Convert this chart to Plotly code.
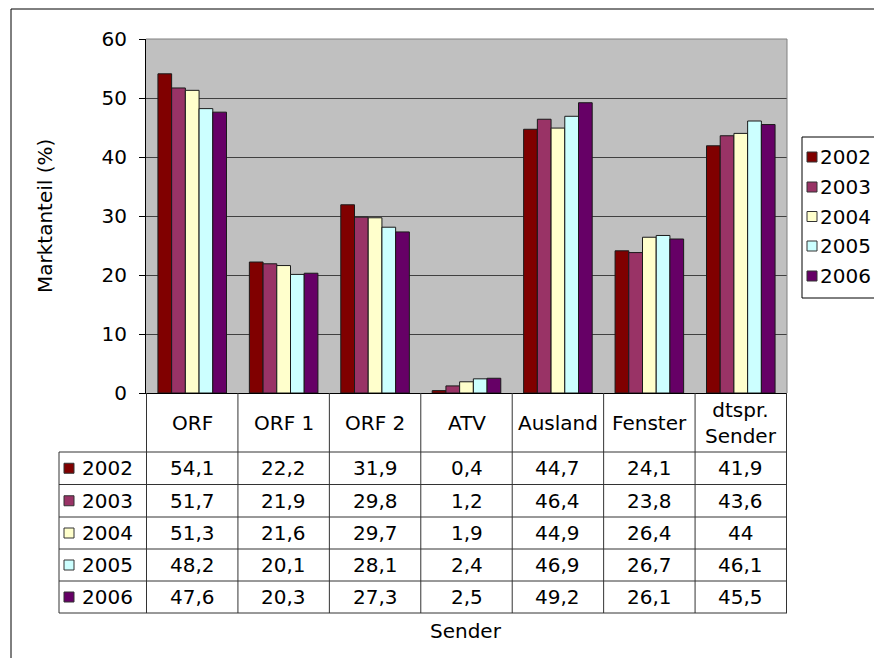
import plotly.graph_objects as go

categories = ["ORF", "ORF 1", "ORF 2", "ATV", "Ausland", "Fenster", "dtspr. Sender"]
header_labels = ["ORF", "ORF 1", "ORF 2", "ATV", "Ausland", "Fenster", "dtspr.<br>Sender"]
years = ["2002", "2003", "2004", "2005", "2006"]
v2002 = [54.1, 22.2, 31.9, 0.4, 44.7, 24.1, 41.9]
v2003 = [51.7, 21.9, 29.8, 1.2, 46.4, 23.8, 43.6]
v2004 = [51.3, 21.6, 29.7, 1.9, 44.9, 26.4, 44.0]
v2005 = [48.2, 20.1, 28.1, 2.4, 46.9, 26.7, 46.1]
v2006 = [47.6, 20.3, 27.3, 2.5, 49.2, 26.1, 45.5]
series = [v2002, v2003, v2004, v2005, v2006]
colors = ["#800000", "#993366", "#FFFFCC", "#CCFFFF", "#660066"]
y_ticks = [0, 10, 20, 30, 40, 50, 60]

# page is offset by the 8px default body margin
OFF = 8
W, H = 882 - OFF, 658 - OFF
L, R, T, B = 146, 787, 39, 393   # page pixel coords of plot area
FONT = "DejaVu Sans"
FS = 20


def xp(px):
    return (px - L) / (R - L)


def yp(py):
    return (B - py) / (B - T)


def fmt(v):
    s = ("%.1f" % v).replace(".", ",")
    if s.endswith(",0"):
        s = s[:-2]
    return s


fig = go.Figure()
for yr, vals, c in zip(years, series, colors):
    fig.add_trace(go.Bar(
        x=categories, y=vals, name=yr,
        marker=dict(color=c, line=dict(color="#1a1a1a", width=1)),
        hoverinfo="x+y+name",
    ))

shapes = []
annotations = []
line_col = "#333333"

# outer frame (top and left visible)
shapes.append(dict(type="line", xref="paper", yref="paper", x0=xp(11), x1=xp(900), y0=yp(9), y1=yp(9),
                   line=dict(color="#000000", width=1)))
shapes.append(dict(type="line", xref="paper", yref="paper", x0=xp(11), x1=xp(11), y0=yp(9), y1=yp(670),
                   line=dict(color="#000000", width=1)))

# plot area border top/right
shapes.append(dict(type="line", xref="paper", yref="paper", x0=0, x1=1, y0=1, y1=1,
                   line=dict(color="#808080", width=1)))
shapes.append(dict(type="line", xref="paper", yref="paper", x0=1, x1=1, y0=0, y1=1,
                   line=dict(color="#808080", width=1)))

# data table
row_edges = [452, 484.5, 517, 549, 581, 613]
for i in range(len(categories) + 1):
    shapes.append(dict(type="line", xref="x", yref="paper", x0=i - 0.5, x1=i - 0.5,
                       y0=yp(B), y1=yp(613), line=dict(color=line_col, width=1)))
shapes.append(dict(type="line", xref="paper", yref="paper", x0=xp(59), x1=xp(59),
                   y0=yp(452), y1=yp(613), line=dict(color=line_col, width=1)))
for ry in row_edges:
    shapes.append(dict(type="line", xref="paper", yref="paper", x0=xp(59), x1=1,
                       y0=yp(ry), y1=yp(ry), line=dict(color=line_col, width=1)))

for cat, lab in zip(categories, header_labels):
    annotations.append(dict(x=cat, xref="x", y=yp(423), yref="paper", text=lab, showarrow=False,
                            xanchor="center", yanchor="middle", font=dict(size=FS, family=FONT, color="#000")))

for r, (yr, vals, c) in enumerate(zip(years, series, colors)):
    cy = (row_edges[r] + row_edges[r + 1]) / 2
    shapes.append(dict(type="rect", xref="paper", yref="paper", x0=xp(64), x1=xp(74),
                       y0=yp(cy - 5), y1=yp(cy + 5), fillcolor=c, line=dict(color="#333333", width=1)))
    annotations.append(dict(x=xp(80), xref="paper", y=yp(cy), yref="paper", text=yr, showarrow=False,
                            xanchor="left", yanchor="middle", font=dict(size=FS, family=FONT, color="#000")))
    for cat, v in zip(categories, vals):
        annotations.append(dict(x=cat, xref="x", y=yp(cy), yref="paper", text=fmt(v), showarrow=False,
                                xanchor="center", yanchor="middle", font=dict(size=FS, family=FONT, color="#000")))

# legend box (manual)
shapes.append(dict(type="rect", xref="paper", yref="paper", x0=xp(802), x1=xp(895),
                   y0=yp(137), y1=yp(298), fillcolor="white", line=dict(color="#000000", width=1)))
leg_y = [157, 187, 216.5, 246, 276]
for yr, c, ly in zip(years, colors, leg_y):
    shapes.append(dict(type="rect", xref="paper", yref="paper", x0=xp(807), x1=xp(817),
                       y0=yp(ly - 5), y1=yp(ly + 5), fillcolor=c, line=dict(color="#333333", width=1)))
    annotations.append(dict(x=xp(818), xref="paper", y=yp(ly), yref="paper", text=yr, showarrow=False,
                            xanchor="left", yanchor="middle", font=dict(size=FS, family=FONT, color="#000")))

# axis titles
annotations.append(dict(x=xp(45), xref="paper", y=yp(216), yref="paper", text="Marktanteil (%)",
                        showarrow=False, textangle=-90, xanchor="center", yanchor="middle",
                        font=dict(size=FS, family=FONT, color="#000")))
annotations.append(dict(x=xp(466), xref="paper", y=yp(631), yref="paper", text="Sender",
                        showarrow=False, xanchor="center", yanchor="middle",
                        font=dict(size=FS, family=FONT, color="#000")))

fig.update_layout(
    width=W, height=H,
    margin=dict(l=L - OFF, r=W - (R - OFF), t=T - OFF, b=H - (B - OFF), pad=0, autoexpand=False),
    paper_bgcolor="white", plot_bgcolor="#C0C0C0",
    barmode="group", bargap=0.25, bargroupgap=0,
    showlegend=False,
    font=dict(family=FONT, size=FS, color="#000"),
    shapes=shapes, annotations=annotations,
)
fig.update_xaxes(showticklabels=False, showline=True, linecolor="#000", linewidth=1,
                 ticks="", showgrid=False, zeroline=False, fixedrange=True)
fig.update_yaxes(range=[0, 60], tickvals=y_ticks, ticks="outside", ticklen=6, tickcolor="#000",
                 showline=True, linecolor="#000", linewidth=1, showgrid=True, gridcolor="#404040",
                 gridwidth=1, zeroline=False, ticklabelstandoff=8,
                 tickfont=dict(size=FS, family=FONT, color="#000"), fixedrange=True)

fig.write_html("out.html")
